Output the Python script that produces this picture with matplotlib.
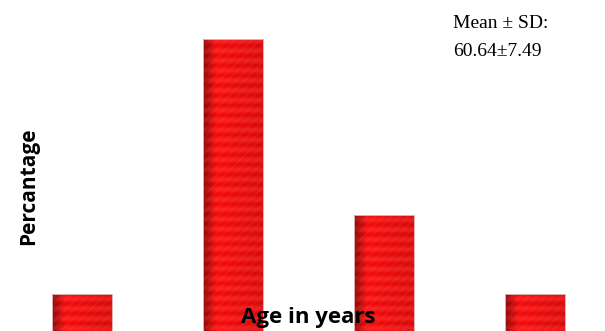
import numpy as np
import matplotlib
matplotlib.use('Agg')
import matplotlib.pyplot as plt

categories = ['<50', '50-59', '60-69', '\u226570']
percentages = [10.0, 50.0, 22.4, 10.0]
mean_sd_label = 'Mean \u00b1 SD:'
mean_sd_value = '60.64\u00b17.49'

W, H = 605, 331
fig = plt.figure(figsize=(W / 100, H / 100), dpi=100)
ax = fig.add_axes([0, -0.0816, 1, 1.0024])
x = np.arange(len(categories))
bw = 0.397
bars = ax.bar(x, percentages, width=bw, color='#ff1a1a', edgecolor='none', zorder=1)
ax.set_xlim(-0.543, 3.464)
ax.set_ylim(0, 52)
ax.set_xticks(x)
ax.set_xticklabels(categories)
ax.axis('off')

# gradient + stripe texture for each bar
ncol = 80
t = np.linspace(0, 1, ncol)
shade = np.where(t < 0.22, 0.6 + 0.4 * (t / 0.22), 1.0 - 0.1 * (t - 0.22) / 0.78)
period = 1.55
for rect, val in zip(bars, percentages):
    x0 = rect.get_x()
    x1 = x0 + rect.get_width()
    nrow = max(int(val * 12), 10)
    yy = np.linspace(0, val, nrow)
    stripe = 0.5 + 0.5 * np.cos(2 * np.pi * yy / period)
    img = np.zeros((nrow, ncol, 3))
    r = shade[None, :] * (0.95 + 0.05 * stripe[:, None])
    g = shade[None, :] * (0.04 + 0.1 * stripe[:, None])
    b = shade[None, :] * (0.04 + 0.1 * stripe[:, None])
    img[..., 0] = np.clip(r, 0, 1)
    img[..., 1] = np.clip(g, 0, 1)
    img[..., 2] = np.clip(b, 0, 1)
    im = ax.imshow(img, extent=(x0, x1, 0, val), origin='lower', aspect='auto',
                   interpolation='bilinear', zorder=2)
    im.set_clip_path(rect)

plt.rcParams['hatch.linewidth'] = 0.4
ax.bar(x, percentages, width=bw, fill=False, hatch='////',
       edgecolor=(1.0, 0.6, 0.6, 0.18), linewidth=0, zorder=3)
ax.bar(x, percentages, width=bw, fill=False, edgecolor='#e0b0b0',
       linewidth=0.7, zorder=4)

fig.text(29 / W, 1 - 186 / H, 'Percantage', rotation=90, fontweight='bold',
         fontsize=15, family='Open Sans', ha='center', va='center')
fig.text(308 / W, 1 - 318 / H, 'Age in years', fontweight='bold',
         fontsize=16, family='Open Sans', ha='center', va='center', zorder=10)
fig.text(453 / W, 1 - 23 / H, mean_sd_label, family='Liberation Serif',
         fontsize=14, ha='left', va='center')
fig.text(453 / W, 1 - 51 / H, mean_sd_value, family='Liberation Serif',
         fontsize=14, ha='left', va='center')

fig.savefig('out.png', dpi=100)
